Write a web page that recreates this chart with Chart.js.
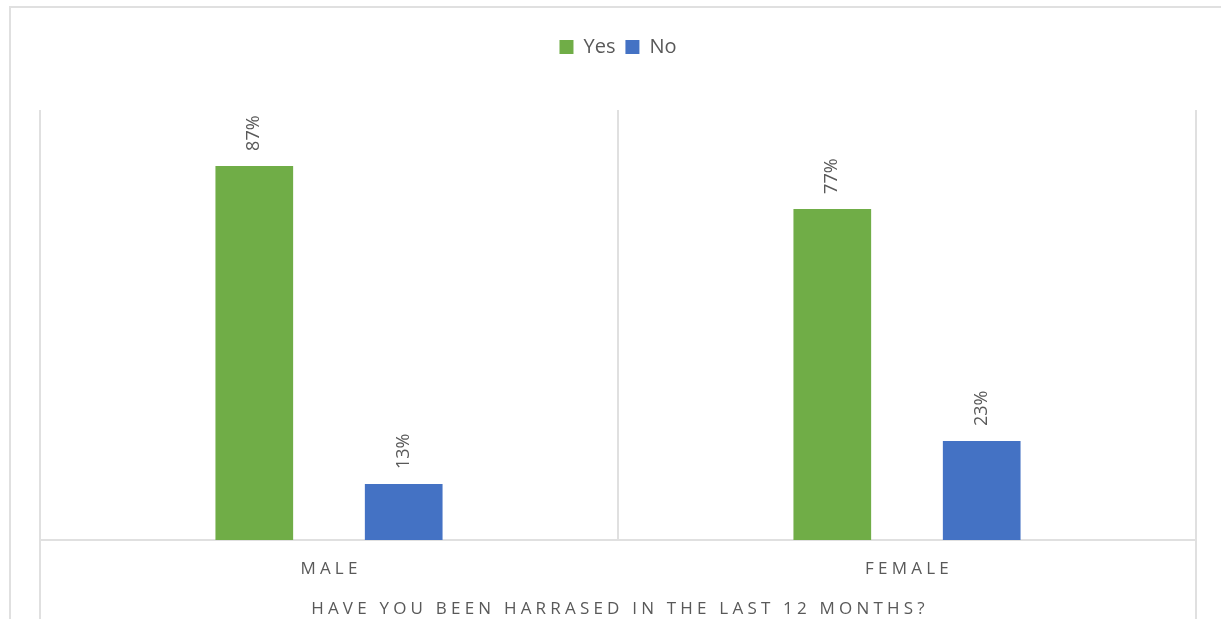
<!DOCTYPE html>
<html>
<head>
<meta charset="utf-8">
<script src="https://cdn.jsdelivr.net/npm/chart.js@4/dist/chart.umd.min.js"></script>
<style>
  html, body { margin: 0; padding: 0; background: #fff; }
  #wrap { width: 1221px; height: 619px; }
</style>
</head>
<body>
<div id="wrap"><canvas id="c" width="1221" height="619"></canvas></div>
<script>
// data
const categories = ["MALE", "FEMALE"];
const yesValues = [87, 77];
const noValues = [13, 23];
const axisTitle = "HAVE YOU BEEN HARRASED IN THE LAST 12 MONTHS?";

const GRID = "#e0e0e0";
const TEXT = "#595959";
const FONT = "'Open Sans', 'Liberation Sans', sans-serif";

// legend gets a fixed height so the plot starts at the right spot
const legendHeight = {
    id: "legendHeight",
    beforeInit(chart) {
        const fit = chart.legend.fit;
        chart.legend.fit = function () {
            fit.bind(chart.legend)();
            this.height = 83;
        };
    }
};

// rotated value labels above each bar
const barLabels = {
    id: "barLabels",
    afterDatasetsDraw(chart) {
        const ctx = chart.ctx;
        ctx.save();
        ctx.fillStyle = TEXT;
        ctx.font = "18px " + FONT;
        ctx.textAlign = "left";
        ctx.textBaseline = "middle";
        chart.data.datasets.forEach((ds, i) => {
            chart.getDatasetMeta(i).data.forEach((bar, j) => {
                ctx.save();
                ctx.translate(bar.x, bar.y - 15);
                ctx.rotate(-Math.PI / 2);
                ctx.fillText(ds.data[j] + "%", 0, 0);
                ctx.restore();
            });
        });
        ctx.restore();
    }
};

// frame, outer grid extensions, spaced category labels and title
const decor = {
    id: "decor",
    afterDraw(chart) {
        const ctx = chart.ctx;
        const a = chart.chartArea;
        const x = chart.scales.x;
        ctx.save();
        ctx.strokeStyle = GRID;
        ctx.lineWidth = 2;
        ctx.strokeRect(10, 7, 1400, 800);
        ctx.beginPath();
        ctx.moveTo(a.left, a.bottom);
        ctx.lineTo(a.left, chart.height);
        ctx.moveTo(a.right, a.bottom);
        ctx.lineTo(a.right, chart.height);
        ctx.stroke();

        ctx.fillStyle = TEXT;
        ctx.font = "17px " + FONT;
        ctx.letterSpacing = "4.2px";
        ctx.textAlign = "center";
        ctx.textBaseline = "middle";
        categories.forEach((c, i) => {
            ctx.fillText(c, x.getPixelForValue(i) + 2, a.bottom + 29);
        });
        ctx.fillText(axisTitle, (a.left + a.right) / 2 + 2, a.bottom + 69);
        ctx.restore();
    }
};

new Chart(document.getElementById("c"), {
    type: "bar",
    data: {
        labels: categories,
        datasets: [
            { label: "Yes", data: yesValues, backgroundColor: "#70AD47" },
            { label: "No", data: noValues, backgroundColor: "#4472C4" }
        ]
    },
    options: {
        responsive: false,
        animation: false,
        datasets: {
            bar: { barPercentage: 0.52, categoryPercentage: 0.517 }
        },
        layout: { padding: { left: 40, right: 25, top: 27, bottom: 79 } },
        plugins: {
            legend: {
                display: true,
                position: "top",
                labels: {
                    boxWidth: 14,
                    boxHeight: 14,
                    padding: 10,
                    color: TEXT,
                    font: { family: FONT, size: 20 }
                }
            },
            tooltip: { enabled: false }
        },
        scales: {
            x: {
                display: true,
                grid: { color: GRID, lineWidth: 2, drawTicks: false, offset: true },
                border: { display: true, color: GRID, width: 2 },
                ticks: { display: false }
            },
            y: {
                display: false,
                min: 0,
                max: 100
            }
        }
    },
    plugins: [legendHeight, barLabels, decor]
});
</script>
</body>
</html>
